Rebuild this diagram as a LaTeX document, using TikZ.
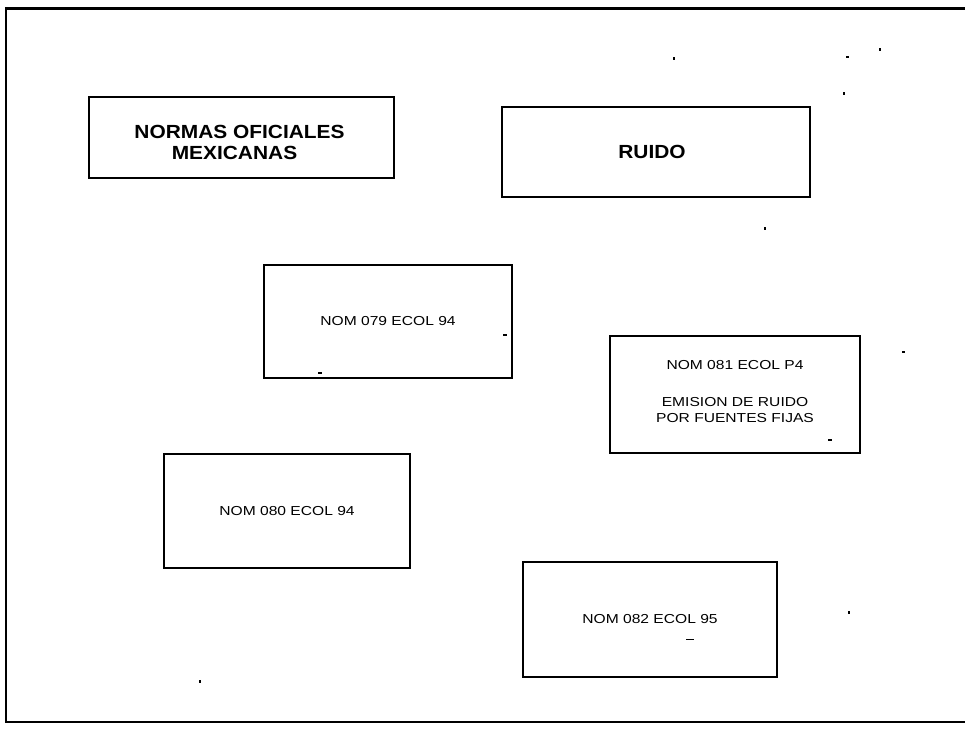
\documentclass[tikz,border=0pt]{standalone}
\usepackage{fontspec}
\setmainfont{Liberation Sans}
\usepackage{graphicx}
\tikzset{
  box/.style={draw=black, line width=2pt, fill=white, inner sep=0pt, align=center},
  bigtext/.style={font=\fontsize{19}{21}\selectfont\bfseries, inner sep=0pt, align=center},
  smalltext/.style={font=\fontsize{13}{16}\selectfont, inner sep=0pt, align=center},
  speck/.style={fill=black}
}
\newcommand{\wideB}[1]{\scalebox{1.1}[1]{#1}}
\newcommand{\wideS}[1]{\scalebox{1.2}[1]{#1}}
\begin{document}
\begin{tikzpicture}[x=1pt,y=-1pt]
\useasboundingbox (0,0) rectangle (965,729);
\fill[white] (0,0) rectangle (965,729);
% outer frame (right side runs off the page)
\draw[line width=3pt] (965,8) -- (6,8);
\draw[line width=2.2pt] (6,7) -- (6,722) -- (965,722);
% boxes
\node[box, minimum width=305pt, minimum height=81pt] (nom) at (241.5,137.5) {};
\node[bigtext] (nomt) at ([xshift=-2pt,yshift=-5pt]nom.center)
  {\wideB{NORMAS OFICIALES}\\\hspace*{-10pt}\wideB{MEXICANAS}};
\node[box, minimum width=308pt, minimum height=90pt] (ruido) at (656,152) {};
\node[bigtext] (ruidot) at ([xshift=-4pt]ruido.center) {\wideB{RUIDO}};
\node[box, smalltext, minimum width=248pt, minimum height=113pt] (n079) at (388,321.5)
  {\wideS{NOM 079 ECOL 94}};
\node[box, minimum width=250pt, minimum height=117pt] (n081) at (735,394) {};
\node[smalltext] (n081t) at ([yshift=2pt]n081.center)
  {\wideS{NOM 081 ECOL P4}\\[21pt]\wideS{EMISION DE RUIDO}\\\wideS{POR FUENTES FIJAS}};
\node[box, smalltext, minimum width=246pt, minimum height=114pt] (n080) at (287,511)
  {\wideS{NOM 080 ECOL 94}};
\node[box, smalltext, minimum width=254pt, minimum height=115pt] (n082) at (650,619.5)
  {\wideS{NOM 082 ECOL 95}};
% scan specks
\fill[speck] (686,638.5) rectangle (694,640);
\fill[speck] (503,334) rectangle (507,336);
\fill[speck] (318,372) rectangle (322,374);
\fill[speck] (828,439) rectangle (832,441);
\fill[speck] (673,57) rectangle (675,60);
\fill[speck] (846,56) rectangle (849,58);
\fill[speck] (879,48) rectangle (881,51);
\fill[speck] (843,92) rectangle (845,95);
\fill[speck] (764,227) rectangle (766,230);
\fill[speck] (902,351) rectangle (905,353);
\fill[speck] (848,611) rectangle (850,614);
\fill[speck] (199,680) rectangle (201,683);
\end{tikzpicture}
\end{document}
